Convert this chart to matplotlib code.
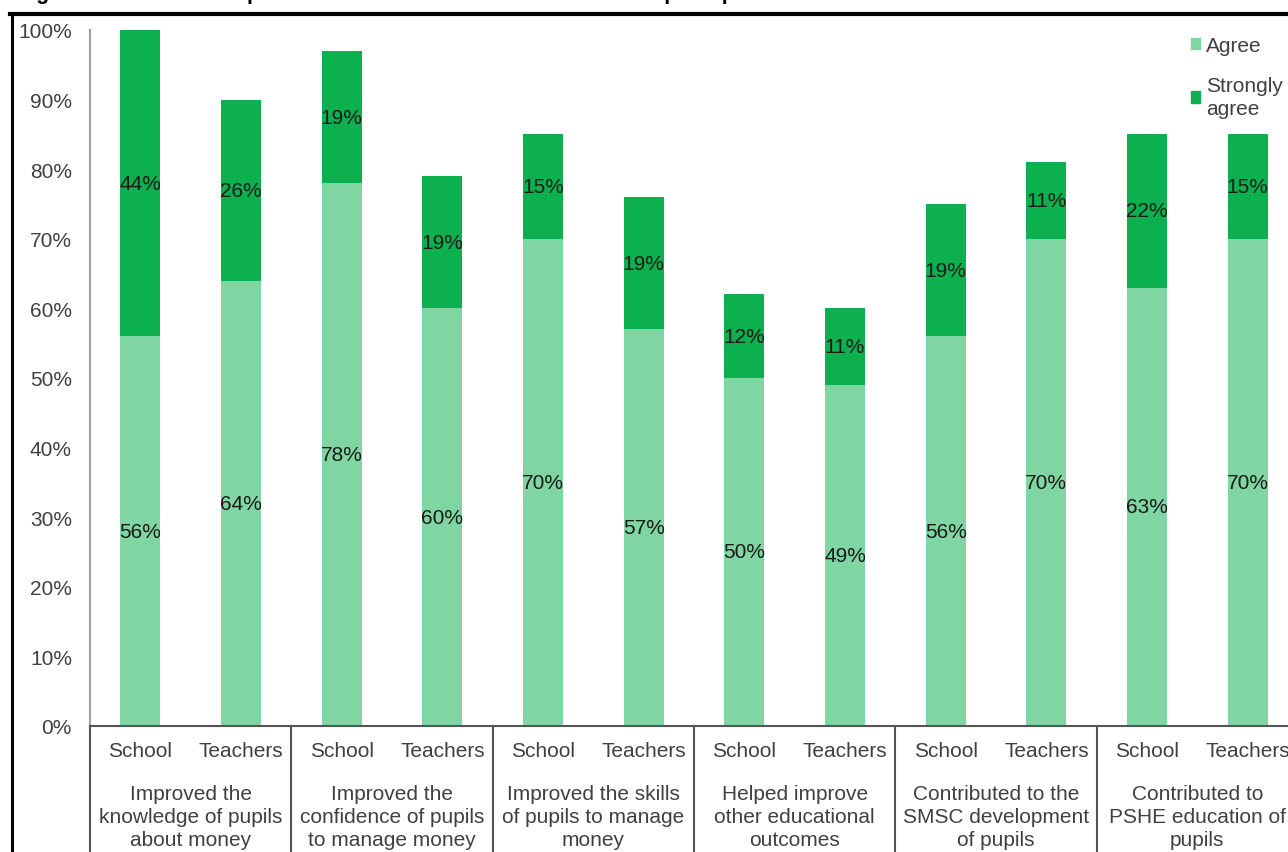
import matplotlib
matplotlib.use("Agg")
import matplotlib.pyplot as plt
from matplotlib.lines import Line2D
from matplotlib.patches import Patch
import numpy as np

plt.rcParams['font.family'] = ['Liberation Sans', 'DejaVu Sans']

# ---- data ----
bar_labels = ["School", "Teachers"] * 6
group_labels = [
    "Improved the\nknowledge of pupils\nabout money",
    "Improved the\nconfidence of pupils\nto manage money",
    "Improved the skills\nof pupils to manage\nmoney",
    "Helped improve\nother educational\noutcomes",
    "Contributed to the\nSMSC development\nof pupils",
    "Contributed to\nPSHE education of\npupils",
]
agree = [56, 64, 78, 60, 70, 57, 50, 49, 56, 70, 63, 70]
strongly_agree = [44, 26, 19, 19, 15, 19, 12, 11, 19, 11, 22, 15]
y_ticks = [0, 10, 20, 30, 40, 50, 60, 70, 80, 90, 100]
series_names = ["Agree", "Strongly\nagree"]

# ---- style ----
c_agree = "#7fd6a3"
c_strong = "#0db04f"
txt_grey = "#404040"
FS = 15

W, H = 1288, 853
fig = plt.figure(figsize=(W / 100, H / 100), dpi=100)
ax = fig.add_axes([90 / W, 126 / H, 1208 / W, 696 / H])

x = np.arange(len(agree))
ax.bar(x, agree, width=0.4, color=c_agree, zorder=2)
ax.bar(x, strongly_agree, width=0.4, bottom=agree, color=c_strong, zorder=2)

for i in range(len(x)):
    ax.text(x[i], agree[i] / 2, f"{agree[i]}%", ha="center", va="center",
            fontsize=FS, color="#1a1a1a", zorder=3)
    ax.text(x[i], agree[i] + strongly_agree[i] / 2, f"{strongly_agree[i]}%",
            ha="center", va="center", fontsize=FS, color="#1a1a1a", zorder=3)

ax.set_xlim(-0.5, len(x) - 0.5)
ax.set_ylim(0, 100)
ax.set_yticks(y_ticks)
ax.set_yticklabels([f"{v}%" for v in y_ticks], fontsize=FS, color=txt_grey)
ax.tick_params(axis="y", length=0, pad=13)
ax.set_xticks([])

for s in ["top", "right"]:
    ax.spines[s].set_visible(False)
ax.spines["left"].set_color("#a0a0a0")
ax.spines["left"].set_linewidth(1.5)
ax.spines["bottom"].set_color("#555555")
ax.spines["bottom"].set_linewidth(1.5)

trans = ax.get_xaxis_transform()
axh = 696.0
# bar category labels
for i, lab in enumerate(bar_labels):
    ax.text(x[i], -(752 - 727) / axh, lab, transform=trans, ha="center",
            va="center", fontsize=FS, color=txt_grey)
# group labels
for g, lab in enumerate(group_labels):
    xc = 2 * g + 0.5
    ax.text(xc, -(785 - 727) / axh, lab, transform=trans, ha="center",
            va="top", fontsize=FS, color=txt_grey, linespacing=1.28)
# group separators
for g in range(len(group_labels) + 1):
    xb = 2 * g - 0.5
    ax.plot([xb, xb], [0, -0.25], transform=trans, color="#555555",
            lw=1.5, clip_on=False, zorder=1)

# legend
handles = [Patch(color=c_agree), Patch(color=c_strong)]
fig.legend(handles, series_names, loc="upper left",
           bbox_to_anchor=(1172 / W, 1 - 18 / H), frameon=False,
           fontsize=FS, handlelength=0.45, handleheight=0.45,
           handletextpad=0.3, labelspacing=1.0, labelcolor=txt_grey)
leg = fig.legends[0]
for t in leg.get_texts():
    t.set_linespacing(1.3)

# cut-off title (only its descenders are visible in the reference) and frame
fig.text(17 / W, 1.0 + 0.5 / H,
         "Figure 5: Perceived impact of the scheme - school and teacher perceptions",
         fontsize=15.5, fontweight="bold", ha="left", va="baseline", color="black")
fig.add_artist(Line2D([10 / W, 1.0], [1 - 15 / H, 1 - 15 / H],
                      transform=fig.transFigure, color="black", lw=3))
fig.add_artist(Line2D([11.5 / W, 11.5 / W], [0, 1 - 15 / H],
                      transform=fig.transFigure, color="black", lw=2.2))

fig.savefig("out.png", dpi=100)
